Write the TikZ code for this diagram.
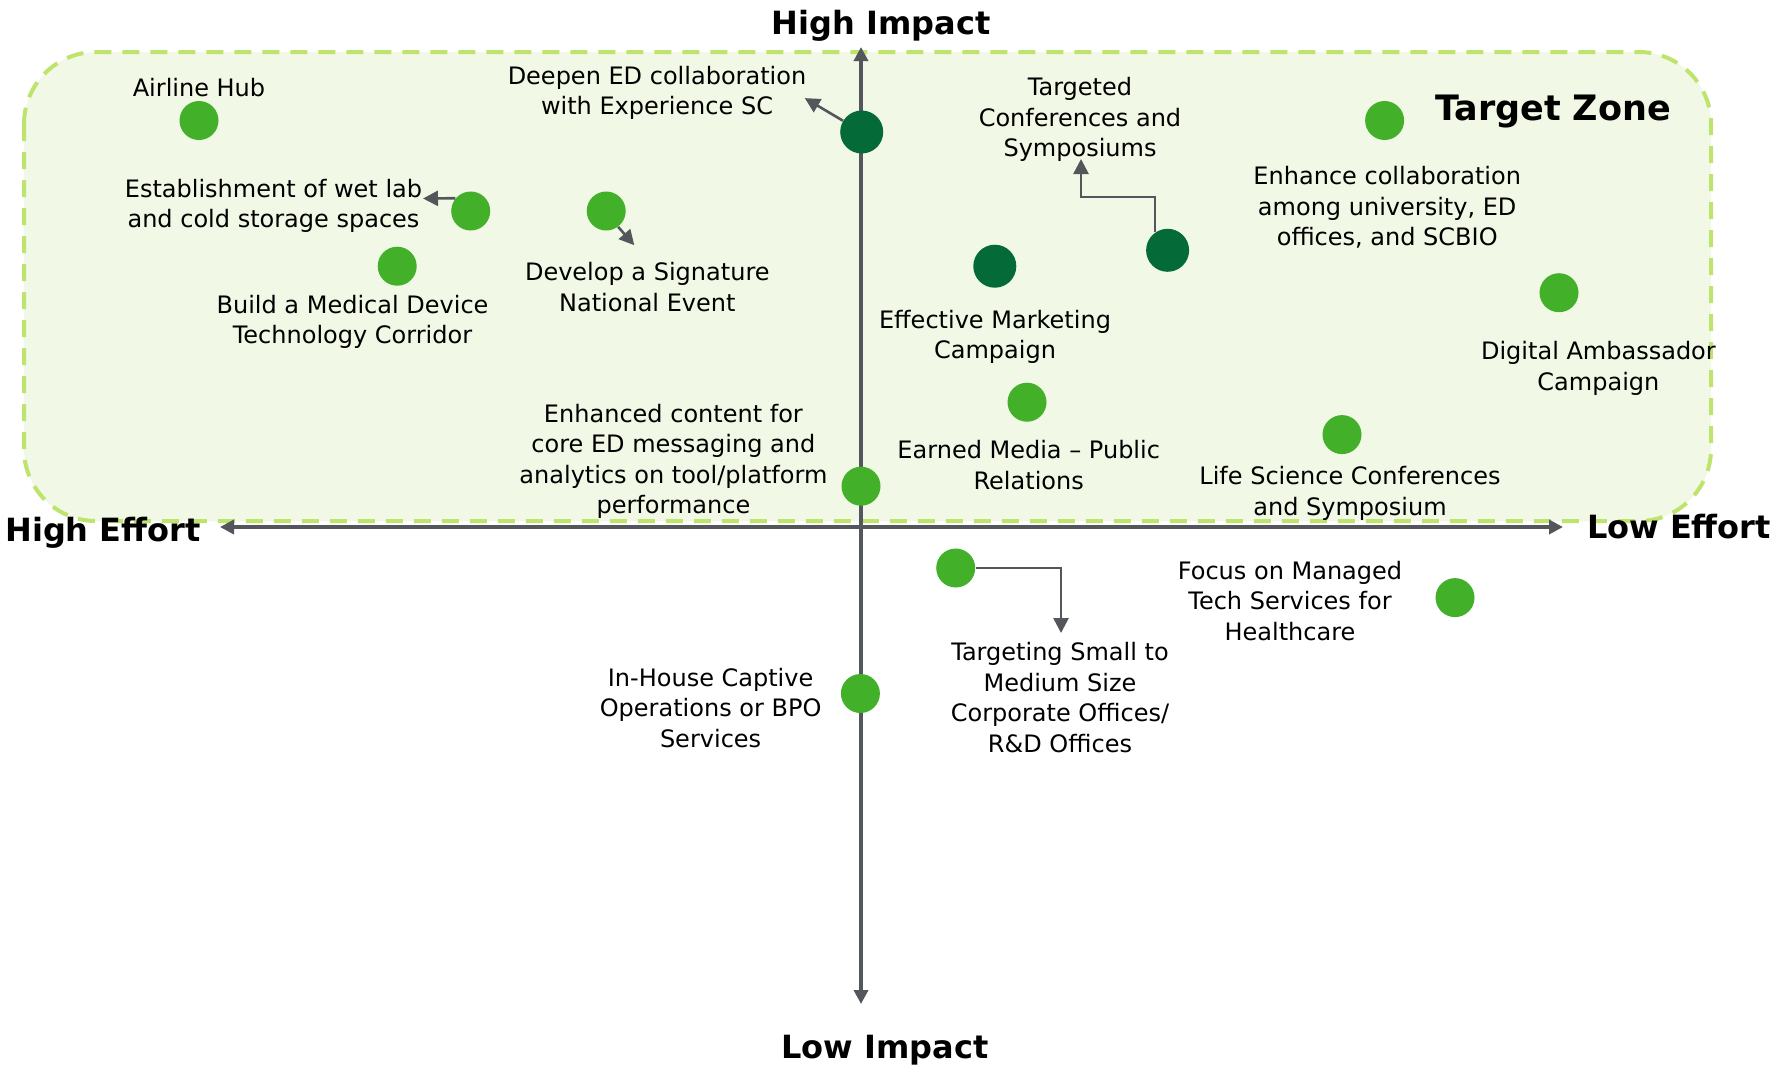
\documentclass[tikz,border=0pt]{standalone}
\usepackage{fontspec}
\setmainfont{DejaVu Sans}
\usetikzlibrary{arrows.meta}
\definecolor{ideagreen}{RGB}{67,176,42}
\definecolor{keygreen}{RGB}{4,106,56}
\definecolor{zonefill}{RGB}{241,248,229}
\definecolor{zoneline}{RGB}{190,228,110}
\definecolor{axisgray}{RGB}{83,86,90}

\begin{document}
\begin{tikzpicture}[x=0.5pt, y=-0.5pt, font=\fontsize{12}{15.25}\selectfont,
    idea/.style={circle, fill=ideagreen, minimum size=19.5pt, inner sep=0pt},
    keyidea/.style={idea, fill=keygreen, minimum size=21.5pt},
    lbl/.style={align=center, inner sep=0pt, yshift=-1pt},
    axistxt/.style={inner sep=0pt, yshift=-1.6pt, font=\fontsize{16}{19}\selectfont\bfseries},
    pointer/.style={-{Triangle[length=7.5pt, width=7.5pt]}, line width=1.3pt, draw=axisgray},
    axisline/.style={{Triangle[length=7pt, width=7pt]}-{Triangle[length=7pt, width=7pt]}, line width=1.8pt, draw=axisgray}]
        \useasboundingbox (0,0) rectangle (1780,1067);

        % Target zone
        \draw[draw=zoneline, fill=zonefill, line width=2pt, dash pattern=on 8.5pt off 5.5pt, rounded corners=36pt] (24,52) rectangle (1711,521);
        \node[axistxt, font=\fontsize{17.5}{20}\selectfont\bfseries] (zone) at (1553,108) {Target Zone};

        % Axes
        \coordinate (top) at (861,47);
        \coordinate (bottom) at (861,1004);
        \coordinate (left) at (220,527);
        \coordinate (right) at (1563,527);
        \draw[axisline] (left) -- (right);
        \draw[axisline] (top) -- (bottom);
        \node[axistxt] (himpact) at (881,23) {High Impact};
        \node[axistxt] (limpact) at (885,1047) {Low Impact};
        \node[axistxt] (heffort) at (103,530) {High Effort};
        \node[axistxt] (leffort) at (1679,523) {Low Effort};

        % Initiatives
        \node[idea] (hub) at (199,120.5) {};
        \node[lbl] (hubtxt) at (199,86) {Airline Hub};

        \node[keyidea] (deepen) at (861.7,132) {};
        \node[lbl] (deepentxt) at (657,91) {Deepen ED collaboration\\with Experience SC};

        \node[idea] (wetlab) at (470.7,211) {};
        \node[lbl] (wetlabtxt) at (273.5,204) {Establishment of wet lab\\and cold storage spaces};

        \node[idea] (signature) at (606.2,211) {};
        \node[lbl] (signaturetxt) at (647.3,285) {Develop a Signature\\National Event};

        \node[idea] (medtech) at (397.2,266.2) {};
        \node[lbl] (medtechtxt) at (352.5,320) {Build a Medical Device\\Technology Corridor};

        \node[idea] (content) at (861,486.2) {};
        \node[lbl] (contenttxt) at (673.4,459.4) {Enhanced content for\\core ED messaging and\\analytics on tool/platform\\performance};

        \node[keyidea] (targetconf) at (1167.6,250.3) {};
        \node[lbl] (targetconftxt) at (1080,117.5) {Targeted\\Conferences and\\Symposiums};

        \node[keyidea] (marketing) at (994.8,266.2) {};
        \node[lbl] (marketingtxt) at (995,335) {Effective Marketing\\Campaign};

        \node[idea] (earned) at (1027,402.2) {};
        \node[lbl] (earnedtxt) at (1028.7,463) {Earned Media -- Public\\Relations};

        \node[idea] (collab) at (1384.6,120.5) {};
        \node[lbl] (collabtxt) at (1387.2,205.6) {Enhance collaboration\\among university, ED\\offices, and SCBIO};

        \node[idea] (ambassador) at (1559,292.7) {};
        \node[lbl] (ambassadortxt) at (1598.4,366.4) {Digital Ambassador\\Campaign};

        \node[idea] (lifesci) at (1342,434.6) {};
        \node[lbl] (lifescitxt) at (1350,491.6) {Life Science Conferences\\and Symposium};

        \node[idea] (smallmed) at (955.7,568) {};
        \node[lbl] (smallmedtxt) at (1060,695.5) {Targeting Small to\\Medium Size\\Corporate Offices/\\R\&D Offices};

        \node[idea] (managed) at (1455,597.6) {};
        \node[lbl] (managedtxt) at (1290,599) {Focus on Managed\\Tech Services for\\Healthcare};

        \node[idea] (captive) at (860.4,693.5) {};
        \node[lbl] (captivetxt) at (710.6,706) {In-House Captive\\Operations or BPO\\Services};

        % Pointers
        \coordinate (deepentip) at (804.8,98.1);
        \coordinate (wetlabtip) at (423,198.5);
        \coordinate (signaturetip) at (634.3,245.2);
        \coordinate (targetconfbend) at (1081,197);
        \coordinate (targetconftip) at (1081,159);
        \coordinate (smallmedtip) at (1061,633);
        \draw[pointer] (deepen.149) -- (deepentip);
        \draw[pointer] (wetlab.140) -- (wetlabtip);
        \draw[pointer] (signature.-53) -- (signaturetip);
        \draw[pointer] (targetconf.125) |- (targetconfbend) -- (targetconftip);
        \draw[pointer] (smallmed.east) -| (smallmedtip);
      \end{tikzpicture}
\end{document}
